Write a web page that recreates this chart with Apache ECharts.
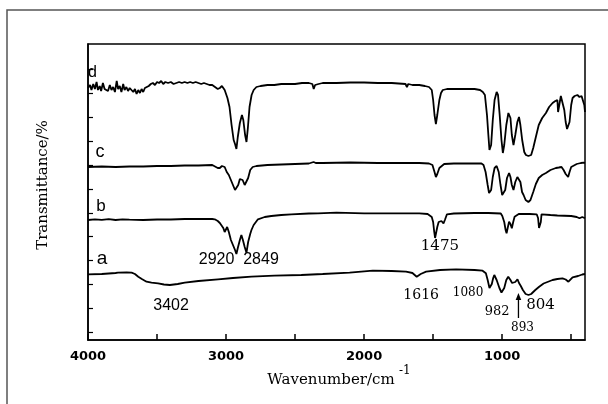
<!DOCTYPE html>
<html>
<head>
<meta charset="utf-8">
<script src="https://cdn.jsdelivr.net/npm/echarts@6/dist/echarts.min.js"></script>
<style>
html,body{margin:0;padding:0;background:#fff;}
#c{width:608px;height:404px;}
</style>
</head>
<body>
<div id="c"></div>
<script>
// FTIR spectra: [wavenumber (cm-1), transmittance (a.u., offset curves)]
const curveD = [
[4000,252],[3985,255],[3975,250],[3962,256],[3950,251],[3938,258],[3928,250],[3915,254],[3905,249],[3892,257],
[3880,251],[3868,253],[3855,249],[3842,255],[3830,250],[3818,253],[3805,248],[3792,259],[3782,251],[3770,254],
[3758,248],[3745,256],[3735,250],[3722,253],[3710,249],[3698,252],[3685,250],[3672,248],[3660,251],[3648,246],
[3636,250],[3624,247],[3612,251],[3600,248],[3588,252],[3575,251],[3560,254],[3545,256],[3530,257],[3515,255],
[3500,258],[3485,257],[3470,259],[3455,256],[3440,258],[3420,257],[3400,258],[3380,256],[3360,257],[3340,258],
[3320,257],[3300,258],[3280,257],[3260,258],[3240,257],[3220,258],[3200,257],[3180,256],[3160,257],[3140,256],
[3120,255],[3100,255],[3080,253],[3060,251],[3045,252],[3030,254],[3010,250],[2990,242],[2975,233],[2960,215],
[2945,200],[2935,196],[2925,191],[2915,203],[2900,217],[2885,225],[2875,220],[2862,205],[2852,198],[2842,212],
[2830,233],[2815,245],[2800,250],[2780,253],[2750,254],[2700,255],[2650,255],[2600,256],[2550,256],[2500,256],
[2450,257],[2400,257],[2375,256],[2365,251],[2355,255],[2330,256],[2300,257],[2200,257],[2100,257.5],[2000,257.5],
[1900,257],[1800,257],[1700,256],[1690,253],[1680,256],[1650,255],[1600,255],[1560,254],[1530,253],[1510,250],
[1500,240],[1490,225],[1480,216],[1470,225],[1455,240],[1443,247],[1430,250],[1419,252],[1400,251],[1350,251],
[1300,251],[1250,251],[1200,251],[1160,250],[1140,248],[1125,245],[1110,225],[1100,205],[1092,190],[1088,188],
[1080,195],[1068,220],[1055,240],[1040,248],[1030,245],[1018,225],[1005,200],[995,187],[985,195],[970,215],
[955,227],[949,228],[940,222],[930,205],[918,195],[905,205],[890,218],[878,223],[868,215],[855,200],
[840,188],[828,185],[810,184],[790,185],[775,192],[756,203],[735,215],[710,222],[683,227],[660,233],
[635,237],[615,239],[600,240],[595,228],[585,236],[575,244],[562,242],[550,230],[540,218],[530,211],
[522,210],[512,218],[500,235],[490,242],[475,244],[455,245],[440,243],[425,244],[415,243],[405,235],[400,228]
];
const curveC = [
[4000,173],[3900,173.5],[3800,173],[3700,173.5],[3600,173.5],[3500,174],[3400,174],[3300,174.5],[3200,174.5],[3100,175],
[3060,172],[3045,172],[3030,174],[3010,173],[2995,168],[2980,165],[2965,160],[2950,155],[2935,150],[2925,148],
[2912,155],[2900,161],[2890,163],[2880,160],[2865,155],[2852,153],[2840,162],[2825,170],[2807,173],[2780,174],
[2700,175],[2600,175.5],[2500,176],[2400,176.5],[2366,178],[2350,177],[2300,177],[2100,177.5],[1900,177],[1700,177],
[1600,177],[1530,176.5],[1505,175],[1490,168],[1480,163],[1470,166],[1455,172],[1443,173],[1420,176],[1350,176.5],
[1250,176.5],[1150,176.5],[1135,175],[1120,168],[1105,155],[1095,147],[1088,145],[1080,150],[1068,163],[1055,172],
[1040,174],[1025,168],[1012,155],[1000,145],[988,143],[978,150],[965,162],[950,167],[940,163],[930,155],
[918,150],[905,158],[890,163],[878,165],[868,158],[856,148],[845,145],[830,140],[810,138],[795,140],
[775,148],[756,156],[735,162],[710,165],[683,167],[650,170],[611,172],[590,172.5],[570,173],[555,170],
[540,166],[530,164],[522,163],[512,168],[500,173],[490,175],[460,176],[430,177],[410,177.3],[400,177]
];
const curveB = [
[4000,120],[3950,120.6],[3900,120.2],[3850,120.8],[3800,120],[3750,120.7],[3700,120.3],[3600,120],[3500,120.5],[3400,120.5],
[3300,121],[3200,121],[3100,121],[3082,120.7],[3060,119],[3045,117],[3034,116.7],[3020,112],[3010,108],[3000,110],
[2992,113],[2980,108],[2965,100],[2950,95],[2935,90],[2925,86],[2915,92],[2900,100],[2889,105],[2878,100],
[2865,93],[2852,87.3],[2840,98],[2825,106],[2816,110],[2800,115],[2769,120.7],[2720,123],[2672,124],[2600,125],
[2527,125.7],[2400,126.5],[2335,126.7],[2200,127.3],[2000,126.7],[1800,126.7],[1600,126.7],[1540,126],[1527,125.5],[1510,123],
[1500,118],[1492,108],[1486,102],[1480,104],[1470,113],[1460,118],[1455,120],[1440,119],[1425,116.7],[1415,120],
[1400,125.7],[1350,126.5],[1200,127],[1100,127],[1010,126.5],[999,124],[985,118],[975,110],[968,106.7],[960,112],
[950,118.3],[940,116],[930,111.7],[920,118],[910,123.3],[880,126],[800,126],[750,125.7],[740,122],[733,112],
[727,110],[720,118],[715,125.7],[650,125],[600,124.5],[500,124],[460,123],[440,121.7],[420,123],[400,121.7]
];
const curveA = [
[4000,65.7],[3900,66],[3800,67],[3783,67.3],[3720,67.5],[3684,67.3],[3660,66],[3636,63.3],[3610,61],[3576,58.3],
[3540,57.3],[3492,56.7],[3450,55.5],[3407,55],[3350,56],[3299,57.3],[3200,59],[3058,60.7],[2950,62],[2816,63.3],
[2650,64.3],[2455,65],[2300,66],[2105,67.3],[1937,69.3],[1800,69],[1696,68.3],[1650,67],[1619,63.3],[1590,66],
[1551,68.3],[1450,70],[1334,70.7],[1200,70],[1142,69.3],[1118,66.7],[1105,60],[1092,52],[1086,50],[1075,56],
[1065,62],[1057,65],[1040,60],[1020,52],[1005,47.5],[997,46.7],[985,52],[970,60],[956,63.3],[940,60],
[928,57],[918,55],[905,58],[889,60.7],[878,57],[865,54],[850,50],[830,46],[809,45],[790,46],
[760,50],[732,53.3],[700,56.5],[635,60],[600,61],[563,61.7],[540,60.5],[530,59],[520,58.3],[508,60],
[490,62.7],[450,64],[420,65.5],[400,66]
];

const xLabelValues = [4000, 3000, 2000, 1000];
const xTickValues = [4000, 3500, 3000, 2500, 2000, 1500, 1000, 500];
const yTickValues = [7.7, 31.6, 55.5, 79.4, 103.3, 127.2, 151.1, 175, 198.9, 222.8, 246.7, 270.6];

// annotations: [text, wavenumber, value, fontSize, fontFamily]
const curveLabels = [
  ['d', 3967, 267.5, 16, 'Liberation Sans'],
  ['c', 3913, 188, 18, 'Liberation Sans'],
  ['b', 3906, 134, 17, 'Liberation Sans'],
  ['a', 3899, 81, 19, 'Liberation Sans']
];
const peakLabels = [
  ['2920', 3069, 80, 16, 'Liberation Sans'],
  ['2849', 2747, 80, 16, 'Liberation Sans'],
  ['3402', 3398, 34, 16, 'Liberation Sans'],
  ['1475', 1451, 93.5, 15, 'DejaVu Serif'],
  ['1616', 1587, 44.5, 14, 'DejaVu Serif'],
  ['1080', 1247, 46.7, 12, 'DejaVu Serif'],
  ['982', 1037, 28.3, 13, 'DejaVu Serif'],
  ['804', 722, 35, 15, 'DejaVu Serif'],
  ['893', 853, 12.5, 12, 'DejaVu Serif']
];
const arrow893 = {wn: 882, from: 22, to: 47};

const chart = echarts.init(document.getElementById('c'), null, {renderer: 'canvas'});

function mkSeries(name, data) {
  return {
    name: name, type: 'line', data: data, showSymbol: false, symbol: 'none',
    lineStyle: {color: '#000', width: 1.8}, animation: false, silent: true
  };
}

chart.setOption({
  animation: false,
  backgroundColor: '#fff',
  grid: {left: 88, right: 23, top: 44, bottom: 64, show: true, borderColor: '#000', borderWidth: 1.5,
         containLabel: false, outerBoundsMode: 'none'},
  xAxis: {
    type: 'value', inverse: true, min: 400, max: 4000,
    axisLine: {show: true, lineStyle: {color: '#000', width: 1.5}},
    axisTick: {show: true, inside: true, length: 6, customValues: xTickValues, lineStyle: {color: '#000', width: 1.5}},
    axisLabel: {show: true, customValues: xLabelValues, color: '#000', fontSize: 13, fontWeight: 'bold',
                fontFamily: 'DejaVu Sans', margin: 10, formatter: function (v) { return String(v); }},
    splitLine: {show: false}
  },
  yAxis: {
    type: 'value', min: 0, max: 296,
    axisLine: {show: true, lineStyle: {color: '#000', width: 1.5}},
    axisTick: {show: true, inside: true, length: 5, customValues: yTickValues, lineStyle: {color: '#000', width: 1.2}},
    axisLabel: {show: false},
    splitLine: {show: false}
  },
  series: [mkSeries('a', curveA), mkSeries('b', curveB), mkSeries('c', curveC), mkSeries('d', curveD)]
});

function px(wn, v) { return chart.convertToPixel({gridIndex: 0}, [wn, v]); }

const g = [];
// outer frame (cropped at right and bottom in the reference)
g.push({type: 'rect', shape: {x: 7, y: 10, width: 620, height: 420}, style: {fill: 'none', stroke: '#555', lineWidth: 1.5}, silent: true});
curveLabels.concat(peakLabels).forEach(function (l) {
  const p = px(l[1], l[2]);
  g.push({type: 'text', x: p[0], y: p[1], style: {text: l[0], fill: '#000', font: l[3] + 'px "' + l[4] + '"',
          align: 'center', verticalAlign: 'middle'}, silent: true});
});
// arrow at 893
const a0 = px(arrow893.wn, arrow893.from), a1 = px(arrow893.wn, arrow893.to);
g.push({type: 'line', shape: {x1: a0[0], y1: a0[1], x2: a1[0], y2: a1[1] + 5}, style: {stroke: '#000', lineWidth: 1.3}, silent: true});
g.push({type: 'polygon', shape: {points: [[a1[0], a1[1]], [a1[0] - 2.8, a1[1] + 7], [a1[0] + 2.8, a1[1] + 7]]}, style: {fill: '#000'}, silent: true});
// axis titles
g.push({type: 'text', x: 331, y: 380, style: {text: 'Wavenumber/cm', fill: '#000', font: '15px "DejaVu Serif"', align: 'center', verticalAlign: 'middle'}, silent: true});
g.push({type: 'text', x: 399, y: 371, style: {text: '-1', fill: '#000', font: '12px "DejaVu Serif"', align: 'left', verticalAlign: 'middle'}, silent: true});
g.push({type: 'text', x: 43, y: 185, rotation: Math.PI / 2, style: {text: 'Transmittance/%', fill: '#000', font: '15px "DejaVu Serif"', align: 'center', verticalAlign: 'middle'}, silent: true});

chart.setOption({graphic: g});
</script>
</body>
</html>
